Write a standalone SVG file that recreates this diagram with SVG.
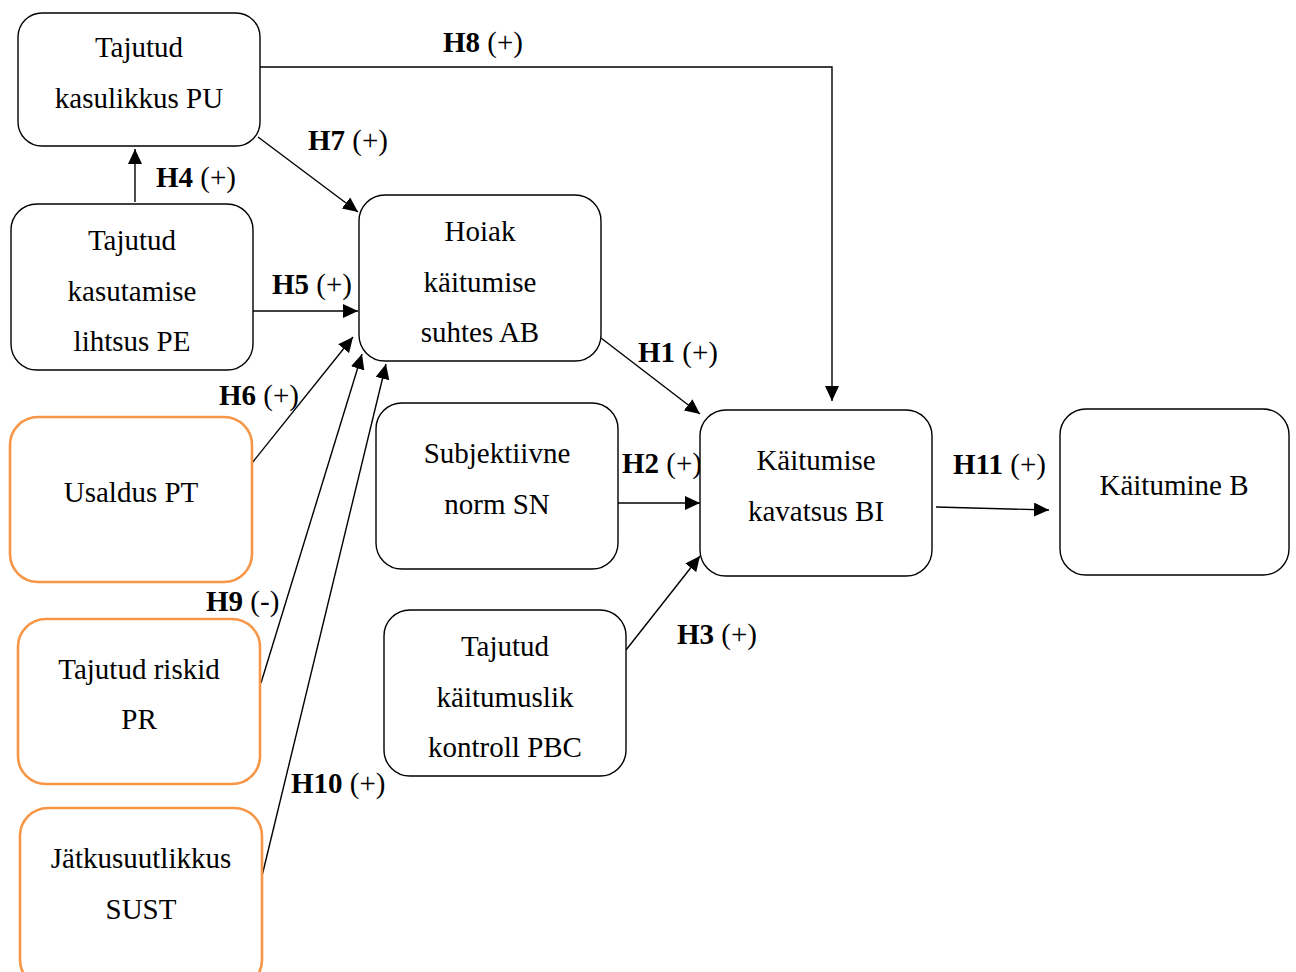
<svg xmlns="http://www.w3.org/2000/svg" width="1296" height="972" viewBox="0 0 1296 972">
<style>
.box{fill:#fff;stroke:#000;stroke-width:1.4}
.obox{fill:#fff;stroke:#F79646;stroke-width:2.6}
.t{font-family:"Liberation Serif","Times New Roman",serif;font-size:29px;fill:#000;text-anchor:middle}
.l{font-family:"Liberation Serif","Times New Roman",serif;font-size:29px;fill:#000}
.b{font-weight:bold}
.c{fill:none;stroke:#000;stroke-width:1.4}
</style>
<defs>
<marker id="ah" markerUnits="userSpaceOnUse" markerWidth="16" markerHeight="15" refX="15" refY="7" orient="auto">
<path d="M0,0 L15,7 L0,14 Z" fill="#000"/>
</marker>
</defs>
<rect width="1296" height="972" fill="#fff"/>
<g id="connectors">
<polyline class="c" points="258,67 832,67 832,401" marker-end="url(#ah)"/>
<line class="c" x1="135" y1="202" x2="135" y2="149" marker-end="url(#ah)"/>
<line class="c" x1="258" y1="137" x2="358" y2="212" marker-end="url(#ah)"/>
<line class="c" x1="253" y1="311" x2="358" y2="311" marker-end="url(#ah)"/>
<line class="c" x1="252" y1="463" x2="353" y2="337" marker-end="url(#ah)"/>
<line class="c" x1="261" y1="683" x2="362" y2="354" marker-end="url(#ah)"/>
<line class="c" x1="262" y1="876" x2="386" y2="364" marker-end="url(#ah)"/>
<line class="c" x1="601" y1="338" x2="700" y2="414" marker-end="url(#ah)"/>
<line class="c" x1="618" y1="503" x2="700" y2="503" marker-end="url(#ah)"/>
<line class="c" x1="626" y1="650" x2="700" y2="556" marker-end="url(#ah)"/>
<line class="c" x1="936" y1="507" x2="1049" y2="510" marker-end="url(#ah)"/>
</g>
<g id="labels">
<text class="l" x="443" y="52"><tspan class="b">H8</tspan> (+)</text>
<text class="l" x="308" y="150"><tspan class="b">H7</tspan> (+)</text>
<text class="l" x="156" y="187"><tspan class="b">H4</tspan> (+)</text>
<text class="l" x="272" y="294"><tspan class="b">H5</tspan> (+)</text>
<text class="l" x="219" y="405"><tspan class="b">H6</tspan> (+)</text>
<text class="l" x="638" y="362"><tspan class="b">H1</tspan> (+)</text>
<text class="l" x="622" y="473"><tspan class="b">H2</tspan> (+)</text>
<text class="l" x="677" y="644"><tspan class="b">H3</tspan> (+)</text>
<text class="l" x="953" y="474"><tspan class="b">H11</tspan> (+)</text>
<text class="l" x="206" y="611"><tspan class="b">H9</tspan> (-)</text>
<text class="l" x="291" y="793"><tspan class="b">H10</tspan> (+)</text>
</g>
<g id="PU">
<rect class="box" x="18" y="13" width="242" height="133" rx="24"/>
<text class="t" x="139" y="57">Tajutud</text>
<text class="t" x="139" y="108">kasulikkus PU</text>
</g>
<g id="PE">
<rect class="box" x="11" y="204" width="242" height="166" rx="26"/>
<text class="t" x="132" y="250">Tajutud</text>
<text class="t" x="132" y="301">kasutamise</text>
<text class="t" x="132" y="351">lihtsus PE</text>
</g>
<g id="AB">
<rect class="box" x="359" y="195" width="242" height="166" rx="26"/>
<text class="t" x="480" y="241">Hoiak</text>
<text class="t" x="480" y="292">käitumise</text>
<text class="t" x="480" y="342">suhtes AB</text>
</g>
<g id="PT">
<rect class="obox" x="10" y="417" width="242" height="165" rx="28"/>
<text class="t" x="131" y="502">Usaldus PT</text>
</g>
<g id="PR">
<rect class="obox" x="18" y="619" width="242" height="165" rx="28"/>
<text class="t" x="139" y="679">Tajutud riskid</text>
<text class="t" x="139" y="729">PR</text>
</g>
<g id="SUST">
<rect class="obox" x="20" y="808" width="242" height="180" rx="28"/>
<text class="t" x="141" y="868">Jätkusuutlikkus</text>
<text class="t" x="141" y="919">SUST</text>
</g>
<g id="SN">
<rect class="box" x="376" y="403" width="242" height="166" rx="26"/>
<text class="t" x="497" y="463">Subjektiivne</text>
<text class="t" x="497" y="514">norm SN</text>
</g>
<g id="PBC">
<rect class="box" x="384" y="610" width="242" height="166" rx="26"/>
<text class="t" x="505" y="656">Tajutud</text>
<text class="t" x="505" y="707">käitumuslik</text>
<text class="t" x="505" y="757">kontroll PBC</text>
</g>
<g id="BI">
<rect class="box" x="700" y="410" width="232" height="166" rx="26"/>
<text class="t" x="816" y="470">Käitumise</text>
<text class="t" x="816" y="521">kavatsus BI</text>
</g>
<g id="B">
<rect class="box" x="1060" y="409" width="229" height="166" rx="26"/>
<text class="t" x="1174" y="495">Käitumine B</text>
</g>
</svg>
